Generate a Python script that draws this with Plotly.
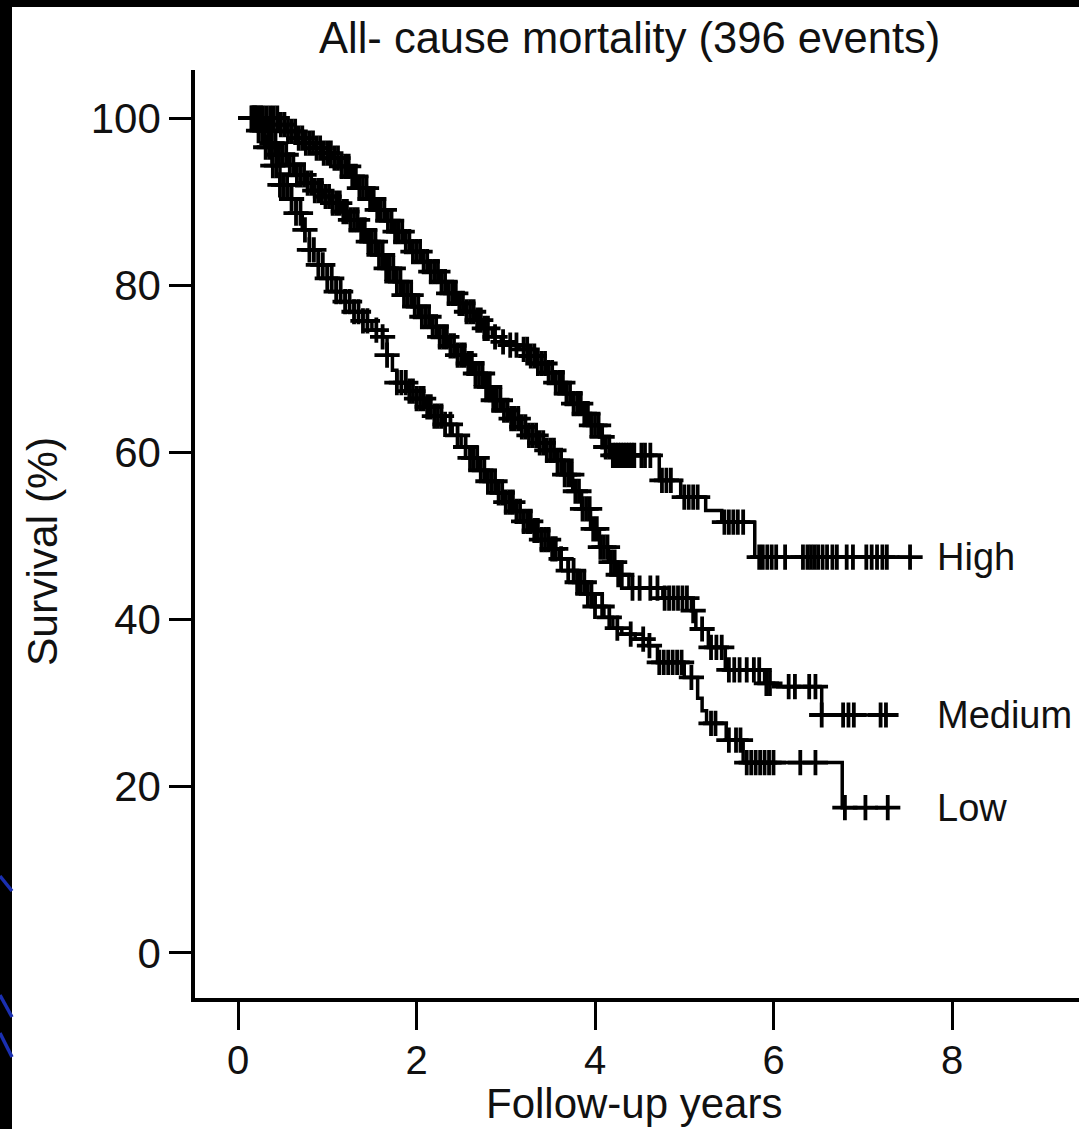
import numpy as np
import plotly.graph_objects as go

# ---------------- data ----------------
x_ticks = [0, 2, 4, 6, 8]
y_ticks = [0, 20, 40, 60, 80, 100]
title_text = "All- cause mortality (396 events)"
x_title = "Follow-up years"
y_title = "Survival (%)"
group_names = ["High", "Medium", "Low"]

# step functions: survival value valid from time t onwards
high_t = [0.0, 0.45, 0.55, 0.65, 0.75, 0.85, 0.95, 1.05, 1.15, 1.25, 1.35, 1.45, 1.55, 1.65,
          1.75, 1.85, 1.95, 2.05, 2.15, 2.25, 2.35, 2.45, 2.55, 2.65, 2.75, 2.85, 2.95, 3.05,
          3.15, 3.25, 3.35, 3.45, 3.55, 3.65, 3.75, 3.85, 3.95, 4.05, 4.12, 4.18, 4.72, 4.96,
          5.24, 5.42, 5.79]
high_s = [100, 99.2, 98.4, 97.6, 97.0, 96.4, 95.8, 95.2, 94.2, 93.0, 91.6, 90.3, 89.0, 87.7,
          86.4, 85.2, 84.0, 82.8, 81.6, 80.4, 79.0, 77.8, 76.8, 75.8, 74.8, 73.8, 73.2, 72.8,
          72.3, 71.5, 70.6, 69.5, 68.3, 67.0, 65.8, 64.6, 63.2, 61.8, 60.6, 59.6, 56.6, 54.6,
          53.0, 51.6, 47.4]
high_end = 7.53
high_cens = [0.16, 0.2, 0.24, 0.28, 0.32, 0.36, 0.4, 0.44, 0.48, 0.52, 0.56, 0.6, 0.64, 0.68,
             0.72, 0.76, 0.8, 0.84, 0.88, 0.92, 0.96, 1.0, 1.04, 1.08, 1.12, 1.16, 1.2, 1.24,
             1.28, 1.32, 1.36, 1.4, 1.44, 1.48, 1.52, 1.56, 1.6, 1.64, 1.68, 1.72, 1.76, 1.8,
             1.84, 1.88, 1.92, 1.96, 2.0, 2.04, 2.08, 2.12, 2.16, 2.2, 2.24, 2.28, 2.32, 2.36,
             2.4, 2.44, 2.48, 2.52, 2.56, 2.6, 2.64, 2.68, 2.72, 2.76, 2.8, 2.88, 2.97, 3.05,
             3.12, 3.2, 3.24, 3.28, 3.32, 3.36, 3.4, 3.44, 3.48, 3.52, 3.56, 3.6, 3.64, 3.68,
             3.72, 3.76, 3.8, 3.84, 3.88, 3.92, 3.96, 4.0, 4.04, 4.08, 4.12, 4.16, 4.2, 4.23,
             4.26, 4.29, 4.32, 4.35, 4.38, 4.41, 4.44, 4.52, 4.56, 4.62, 4.75, 4.8, 4.85, 5.0,
             5.05, 5.1, 5.15, 5.45, 5.5, 5.55, 5.6, 5.66, 5.84, 5.88, 5.93, 5.98, 6.03, 6.13,
             6.33, 6.38, 6.42, 6.46, 6.5, 6.55, 6.6, 6.66, 6.71, 6.82, 6.89, 7.04, 7.1, 7.16,
             7.22, 7.27, 7.53]

med_t = [0.0, 0.28, 0.36, 0.45, 0.55, 0.65, 0.75, 0.85, 0.95, 1.05, 1.15, 1.25, 1.35, 1.45,
         1.55, 1.65, 1.75, 1.85, 1.95, 2.05, 2.15, 2.25, 2.35, 2.45, 2.55, 2.65, 2.75, 2.85,
         2.95, 3.05, 3.15, 3.25, 3.35, 3.45, 3.55, 3.65, 3.75, 3.85, 3.95, 4.05, 4.15, 4.25,
         4.38, 4.76, 5.08, 5.13, 5.27, 5.46, 5.9, 6.0, 6.54]
med_s = [100, 98.5, 97.0, 95.6, 94.4, 93.2, 92.2, 91.3, 90.6, 89.8, 88.8, 87.8, 86.6, 85.2,
         83.6, 82.0, 80.4, 78.8, 77.4, 76.2, 75.0, 73.8, 72.7, 71.6, 70.6, 69.4, 67.8, 66.2,
         65.0, 64.0, 63.0, 62.0, 61.1, 60.2, 59.0, 57.3, 55.3, 53.2, 50.8, 48.6, 46.8, 45.3,
         43.7, 42.5, 41.0, 38.8, 36.6, 33.9, 32.3, 31.9, 28.5]
med_end = 7.38
med_cens = [0.18, 0.22, 0.26, 0.3, 0.34, 0.38, 0.42, 0.46, 0.5, 0.54, 0.58, 0.62, 0.66, 0.7,
            0.74, 0.78, 0.82, 0.86, 0.9, 0.94, 0.98, 1.02, 1.06, 1.1, 1.14, 1.18, 1.22, 1.26,
            1.3, 1.34, 1.38, 1.42, 1.46, 1.5, 1.54, 1.58, 1.62, 1.66, 1.7, 1.74, 1.78, 1.82,
            1.86, 1.9, 1.94, 1.98, 2.02, 2.06, 2.1, 2.14, 2.18, 2.22, 2.26, 2.3, 2.34, 2.38,
            2.42, 2.46, 2.5, 2.54, 2.58, 2.62, 2.66, 2.7, 2.74, 2.78, 2.82, 2.86, 2.9, 2.94,
            2.98, 3.02, 3.06, 3.1, 3.14, 3.18, 3.22, 3.26, 3.3, 3.34, 3.38, 3.42, 3.46, 3.5,
            3.54, 3.58, 3.62, 3.66, 3.7, 3.74, 3.78, 3.82, 3.86, 3.9, 3.94, 3.98, 4.02, 4.06,
            4.1, 4.14, 4.18, 4.22, 4.26, 4.3, 4.42, 4.5, 4.62, 4.7, 4.78, 4.83, 4.88, 4.93,
            4.98, 5.03, 5.1, 5.2, 5.3, 5.36, 5.42, 5.5, 5.56, 5.62, 5.7, 5.78, 5.84, 5.92,
            5.96, 6.17, 6.24, 6.4, 6.47, 6.54, 6.78, 6.84, 6.9, 7.2, 7.26]

low_t = [0.0, 0.22, 0.3, 0.38, 0.47, 0.56, 0.65, 0.72, 0.8, 0.9, 1.0, 1.1, 1.2, 1.3, 1.4, 1.5,
         1.62, 1.67, 1.73, 1.78, 1.9, 2.0, 2.1, 2.2, 2.3, 2.4, 2.5, 2.6, 2.7, 2.8, 2.9, 3.0,
         3.1, 3.2, 3.3, 3.4, 3.5, 3.6, 3.7, 3.8, 3.9, 4.0, 4.1, 4.2, 4.3, 4.45, 4.6, 4.7, 5.0,
         5.15, 5.2, 5.25, 5.47, 5.66, 6.77]
low_s = [100, 98.5, 96.5, 94.3, 92.0, 90.3, 88.6, 86.6, 84.2, 82.4, 80.8, 79.2, 78.0, 76.8,
         75.7, 74.6, 73.8, 71.6, 69.8, 68.3, 67.3, 66.4, 65.4, 64.3, 63.3, 62.0, 60.6, 59.3,
         57.8, 56.5, 55.1, 54.0, 52.9, 51.7, 50.6, 49.5, 48.4, 47.2, 45.8, 44.4, 43.0, 41.5,
         40.2, 38.9, 38.2, 37.6, 36.8, 34.8, 33.0, 30.5, 29.0, 27.5, 25.5, 22.8, 17.4]
low_end = 7.3
low_cens = [0.15, 0.19, 0.23, 0.27, 0.31, 0.35, 0.39, 0.43, 0.47, 0.51, 0.55, 0.6, 0.65, 0.7,
            0.75, 0.8, 0.85, 0.9, 0.95, 1.0, 1.05, 1.1, 1.15, 1.2, 1.25, 1.3, 1.35, 1.4, 1.45,
            1.55, 1.62, 1.67, 1.78, 1.83, 1.88, 1.92, 1.96, 2.0, 2.04, 2.08, 2.12, 2.16, 2.2,
            2.24, 2.28, 2.32, 2.38, 2.46, 2.55, 2.6, 2.64, 2.68, 2.72, 2.76, 2.8, 2.84, 2.88,
            2.92, 2.96, 3.0, 3.04, 3.08, 3.12, 3.16, 3.2, 3.24, 3.28, 3.32, 3.36, 3.4, 3.44,
            3.48, 3.52, 3.56, 3.62, 3.7, 3.76, 3.8, 3.84, 3.88, 3.92, 3.96, 4.0, 4.08, 4.16,
            4.25, 4.4, 4.54, 4.61, 4.72, 4.77, 4.82, 4.87, 4.92, 4.97, 5.08, 5.3, 5.35, 5.5,
            5.58, 5.63, 5.7, 5.75, 5.8, 5.85, 5.9, 5.95, 6.0, 6.3, 6.47, 6.8, 7.03, 7.28]

# ---------------- figure ----------------
W, H = 1079, 1129
ML, MR, MT, MB = 195, 0, 70, 131
PW, PH = W - ML - MR, H - MT - MB
FONT = "Liberation Sans, Arial, Helvetica, sans-serif"
INK = "#111111"


def px(xp):
    return (xp - ML) / PW


def py(yp):
    return (H - MB - yp) / PH


def step_values(t_arr, s_arr, times):
    idx = np.searchsorted(np.asarray(t_arr), np.asarray(times), side="right") - 1
    return np.asarray(s_arr)[idx]


fig = go.Figure()
curves = [(high_t, high_s, high_end, high_cens),
          (med_t, med_s, med_end, med_cens),
          (low_t, low_s, low_end, low_cens)]
for (t, s, end, cens), name in zip(curves, group_names):
    fig.add_trace(go.Scatter(
        x=list(t) + [end], y=list(s) + [s[-1]], mode="lines",
        line=dict(shape="hv", color="black", width=3.5), name=name,
        showlegend=False, hoverinfo="skip"))
    fig.add_trace(go.Scatter(
        x=cens, y=step_values(t, s, cens), mode="markers",
        marker=dict(symbol="cross-thin", size=18, color="black",
                    line=dict(color="black", width=3.8)),
        showlegend=False, hoverinfo="skip"))

# group labels at the end of each curve
for (t, s, end, cens), name in zip(curves, group_names):
    fig.add_annotation(x=7.81, y=s[-1], xref="x", yref="y", text=name,
                       showarrow=False, xanchor="left", yanchor="middle",
                       font=dict(family=FONT, size=38, color=INK))

fig.add_annotation(x=px(629), y=py(38), xref="paper", yref="paper", text=title_text,
                   showarrow=False, xanchor="center", yanchor="middle",
                   font=dict(family=FONT, size=43.5, color=INK))

fig.add_annotation(x=px(42), y=py(552), xref="paper", yref="paper", text=y_title,
                   textangle=-90, showarrow=False, xanchor="center", yanchor="middle",
                   font=dict(family=FONT, size=42.5, color=INK))

fig.add_annotation(x=px(634), y=py(1129), xref="paper", yref="paper", text=x_title,
                   showarrow=False, xanchor="center", yanchor="bottom",
                   font=dict(family=FONT, size=42, color=INK))

# dark frame strips and blue decorative lines at the edge
fig.add_shape(type="rect", xref="paper", yref="paper", x0=px(0), x1=px(12), y0=py(H), y1=py(0),
              fillcolor="black", line=dict(width=0), layer="above")
fig.add_shape(type="rect", xref="paper", yref="paper", x0=px(0), x1=px(W), y0=py(7), y1=py(0),
              fillcolor="black", line=dict(width=0), layer="above")
for (a, b) in [((0, 876), (12, 891)), ((0, 995), (12, 1017)), ((0, 1033), (12, 1057))]:
    fig.add_shape(type="line", xref="paper", yref="paper", x0=px(a[0]), y0=py(a[1]),
                  x1=px(b[0]), y1=py(b[1]), line=dict(color="#1a2fb0", width=3.5), layer="above")

fig.update_layout(
    width=W, height=H,
    margin=dict(l=ML, r=MR, t=MT, b=MB),
    paper_bgcolor="white", plot_bgcolor="white",
    font=dict(family=FONT, color=INK),
    xaxis=dict(range=[-0.482, 9.423], tickvals=x_ticks, ticktext=[str(v) for v in x_ticks],
               ticks="outside", ticklen=28, tickwidth=3, tickcolor="black",
               ticklabelstandoff=-4,
               showline=True, linewidth=3.5, linecolor="black", mirror=False,
               showgrid=False, zeroline=False, tickfont=dict(size=40, color=INK)),
    yaxis=dict(range=[-5.39, 105.75], tickvals=y_ticks, ticktext=[str(v) for v in y_ticks],
               ticks="outside", ticklen=22, tickwidth=3, tickcolor="black",
               showline=True, linewidth=3.5, linecolor="black", mirror=False,
               showgrid=False, zeroline=False, tickfont=dict(size=42, color=INK)),
)

fig.write_html("out.html")
